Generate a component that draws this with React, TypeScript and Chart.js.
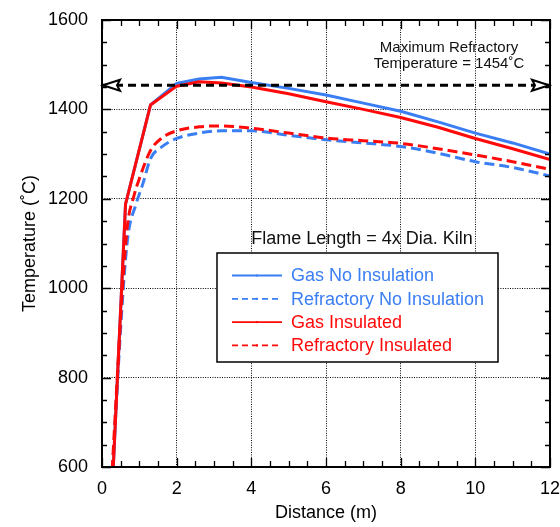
import React, { useEffect, useRef } from 'react';
import { Chart, registerables } from 'chart.js';

Chart.register(...registerables);

const FONT = '"Liberation Sans", Arial, Helvetica, sans-serif';
const BLUE = '#3a7ef4';
const RED = '#ff0a0a';

// ---- data ----
const seriesLabels = [
  'Gas No Insulation',
  'Refractory No Insulation',
  'Gas Insulated',
  'Refractory Insulated',
];

const gasNoInsX = [0.28, 0.63, 1.3, 2.0, 2.6, 3.2, 4.0, 5.0, 6.0, 7.0, 8.0, 9.0, 10.0, 11.0, 12.0];
const gasNoInsY = [560, 1188, 1410, 1458, 1468, 1472, 1460, 1447, 1432, 1414, 1396, 1372, 1347, 1325, 1300];

const refNoInsX = [0.26, 0.57, 0.7, 0.9, 1.1, 1.3, 1.6, 2.0, 2.6, 3.2, 4.0, 5.0, 6.0, 7.0, 8.0, 9.0, 10.0, 11.0, 12.0];
const refNoInsY = [560, 1000, 1120, 1185, 1235, 1290, 1316, 1335, 1347, 1352, 1352, 1342, 1332, 1325, 1317, 1302, 1283, 1270, 1251];

const gasInsX = [0.28, 0.63, 1.3, 2.0, 2.6, 3.2, 4.0, 5.0, 6.0, 7.0, 8.0, 9.0, 10.0, 11.0, 12.0];
const gasInsY = [560, 1188, 1410, 1452, 1462, 1459, 1450, 1435, 1417, 1400, 1382, 1360, 1335, 1312, 1288];

const refInsX = [0.25, 0.55, 0.68, 0.85, 1.0, 1.3, 1.6, 2.0, 2.6, 3.2, 4.0, 5.0, 6.0, 7.0, 8.0, 9.0, 10.0, 11.0, 12.0];
const refInsY = [560, 1000, 1140, 1205, 1245, 1308, 1336, 1352, 1361, 1363, 1358, 1347, 1336, 1330, 1324, 1312, 1298, 1283, 1266];

const maxRefractoryTemp = 1454;
const maxRefractoryX = [0, 12];

const xTickStep = 2;
const yTickStep = 200;
const xMinorStep = 0.5;
const yMinorStep = 50;

const toPts = (xs: number[], ys: number[]) => xs.map((x, i) => ({ x, y: ys[i] }));

const decorPlugin = {
  id: 'decor',
  afterDatasetsDraw(chart: any) {
    const { ctx, scales } = chart;
    const xs = scales.x;
    const ys = scales.y;
    const yy = ys.getPixelForValue(maxRefractoryTemp);
    const drawArrow = (tipX: number, dir: number) => {
      ctx.save();
      ctx.beginPath();
      ctx.moveTo(tipX, yy);
      ctx.lineTo(tipX + dir * 17, yy - 5.5);
      ctx.lineTo(tipX + dir * 14, yy);
      ctx.lineTo(tipX + dir * 17, yy + 5.5);
      ctx.closePath();
      ctx.fillStyle = '#fff';
      ctx.fill();
      ctx.lineWidth = 2;
      ctx.strokeStyle = '#000';
      ctx.lineJoin = 'miter';
      ctx.stroke();
      ctx.restore();
    };
    drawArrow(xs.getPixelForValue(maxRefractoryX[0]) + 1, 1);
    drawArrow(xs.getPixelForValue(maxRefractoryX[1]) - 1, -1);
  },
  afterDraw(chart: any) {
    const { ctx, chartArea: a, scales } = chart;
    const xs = scales.x;
    const ys = scales.y;
    ctx.save();
    // frame
    ctx.strokeStyle = '#000';
    ctx.lineWidth = 2;
    ctx.strokeRect(a.left, a.top, a.right - a.left, a.bottom - a.top);
    // ticks
    ctx.lineWidth = 1.3;
    ctx.beginPath();
    for (let v = xs.min; v <= xs.max + 1e-9; v += xMinorStep) {
      const px = Math.round(xs.getPixelForValue(v)) + 0.5;
      const len = Math.abs(v / xTickStep - Math.round(v / xTickStep)) < 1e-6 ? 9 : 6;
      ctx.moveTo(px, a.bottom);
      ctx.lineTo(px, a.bottom - len);
      ctx.moveTo(px, a.top);
      ctx.lineTo(px, a.top + len);
    }
    for (let v = ys.min; v <= ys.max + 1e-9; v += yMinorStep) {
      const py = Math.round(ys.getPixelForValue(v)) + 0.5;
      const len = Math.abs(v / yTickStep - Math.round(v / yTickStep)) < 1e-6 ? 9 : 5;
      ctx.moveTo(a.left, py);
      ctx.lineTo(a.left + len, py);
      ctx.moveTo(a.right, py);
      ctx.lineTo(a.right - len, py);
    }
    ctx.stroke();

    // annotations
    ctx.fillStyle = '#111';
    ctx.textAlign = 'center';
    ctx.textBaseline = 'middle';
    ctx.font = `15px ${FONT}`;
    ctx.fillText('Maximum Refractory', 449, 48);
    ctx.fillText(`Temperature = ${maxRefractoryTemp}˚C`, 449, 64);
    ctx.font = `18px ${FONT}`;
    ctx.fillText('Flame Length = 4x Dia. Kiln', 362, 239);

    // legend
    const bx = 217, by = 253, bw = 281, bh = 109;
    ctx.fillStyle = '#fff';
    ctx.fillRect(bx, by, bw, bh);
    ctx.lineWidth = 1.5;
    ctx.strokeStyle = '#000';
    ctx.strokeRect(bx, by, bw, bh);
    const dsets = chart.data.datasets.filter((d: any) => d.inLegend);
    dsets.sort((p: any, q: any) => p.legendIndex - q.legendIndex);
    dsets.forEach((d: any, i: number) => {
      const cy = 275.5 + i * 23.3;
      ctx.beginPath();
      ctx.strokeStyle = d.borderColor;
      ctx.lineWidth = 1.8;
      ctx.setLineDash(d.borderDash && d.borderDash.length ? [6, 4] : []);
      ctx.moveTo(232, cy);
      ctx.lineTo(282, cy);
      ctx.stroke();
      ctx.setLineDash([]);
      ctx.fillStyle = d.borderColor;
      ctx.fillRect(256, cy - 1, 2, 2);
      ctx.font = `18px ${FONT}`;
      ctx.textAlign = 'left';
      ctx.fillText(d.label, 291, cy + 1);
    });
    ctx.restore();
  },
};

export default function App() {
  const ref = useRef<HTMLCanvasElement | null>(null);

  useEffect(() => {
    const el = ref.current;
    if (!el) return;
    document.body.style.margin = '0';
    const edgeTransparent = (min: number, max: number) => (c: any) => {
      const v = c.tick ? c.tick.value : undefined;
      return v === min || v === max ? 'rgba(0,0,0,0)' : '#000';
    };
    const chart = new Chart(el, {
      type: 'line',
      data: {
        datasets: [
          {
            label: 'Maximum Refractory Temperature',
            data: toPts(maxRefractoryX, [maxRefractoryTemp, maxRefractoryTemp]),
            borderColor: '#000',
            borderWidth: 3,
            borderDash: [8, 5],
            pointRadius: 0,
            order: 0,
            inLegend: false,
          } as any,
          {
            label: seriesLabels[2],
            data: toPts(gasInsX, gasInsY),
            borderColor: RED,
            borderWidth: 3,
            pointRadius: 0,
            order: 1,
            inLegend: true,
            legendIndex: 2,
          } as any,
          {
            label: seriesLabels[3],
            data: toPts(refInsX, refInsY),
            borderColor: RED,
            borderWidth: 3,
            borderDash: [10, 5],
            pointRadius: 0,
            cubicInterpolationMode: 'monotone',
            order: 2,
            inLegend: true,
            legendIndex: 3,
          } as any,
          {
            label: seriesLabels[0],
            data: toPts(gasNoInsX, gasNoInsY),
            borderColor: BLUE,
            borderWidth: 3,
            pointRadius: 0,
            order: 3,
            inLegend: true,
            legendIndex: 0,
          } as any,
          {
            label: seriesLabels[1],
            data: toPts(refNoInsX, refNoInsY),
            borderColor: BLUE,
            borderWidth: 3,
            borderDash: [10, 5],
            pointRadius: 0,
            cubicInterpolationMode: 'monotone',
            order: 4,
            inLegend: true,
            legendIndex: 1,
          } as any,
        ],
      },
      options: {
        animation: false,
        responsive: false,
        maintainAspectRatio: false,
        layout: { padding: { top: 20, right: 10, left: 0, bottom: 0 } },
        plugins: { legend: { display: false }, tooltip: { enabled: false } },
        scales: {
          x: {
            type: 'linear',
            min: 0,
            max: 12,
            ticks: { stepSize: xTickStep, color: '#000', font: { family: FONT, size: 18 }, padding: 11, maxRotation: 0, callback: (v: any) => String(v) },
            grid: { color: edgeTransparent(0, 12), lineWidth: 1, drawTicks: false },
            border: { display: false, dash: [1, 1.4] },
            title: { display: true, text: 'Distance (m)', color: '#000', font: { family: FONT, size: 18 }, padding: { top: 0, bottom: 3 } },
            afterFit: (s: any) => { s.height = 60; s.paddingLeft = 0; s.paddingRight = 0; },
          },
          y: {
            type: 'linear',
            min: 600,
            max: 1600,
            ticks: { stepSize: yTickStep, color: '#000', font: { family: FONT, size: 18 }, padding: 14, callback: (v: any) => String(v) },
            grid: { color: edgeTransparent(600, 1600), lineWidth: 1, drawTicks: false },
            border: { display: false, dash: [1, 1.4] },
            title: { display: true, text: 'Temperature (˚C)', color: '#000', font: { family: FONT, size: 18 }, padding: { top: 19, bottom: 0 } },
            afterFit: (s: any) => { s.width = 102; s.paddingTop = 0; s.paddingBottom = 0; },
          },
        },
      } as any,
      plugins: [decorPlugin],
    });
    return () => chart.destroy();
  }, []);

  return (
    <div style={{ position: 'fixed', left: 0, top: 0, width: 560, height: 527, background: '#fff' }}>
      <canvas ref={ref} width={560} height={527} style={{ display: 'block', width: 560, height: 527 }} />
    </div>
  );
}
